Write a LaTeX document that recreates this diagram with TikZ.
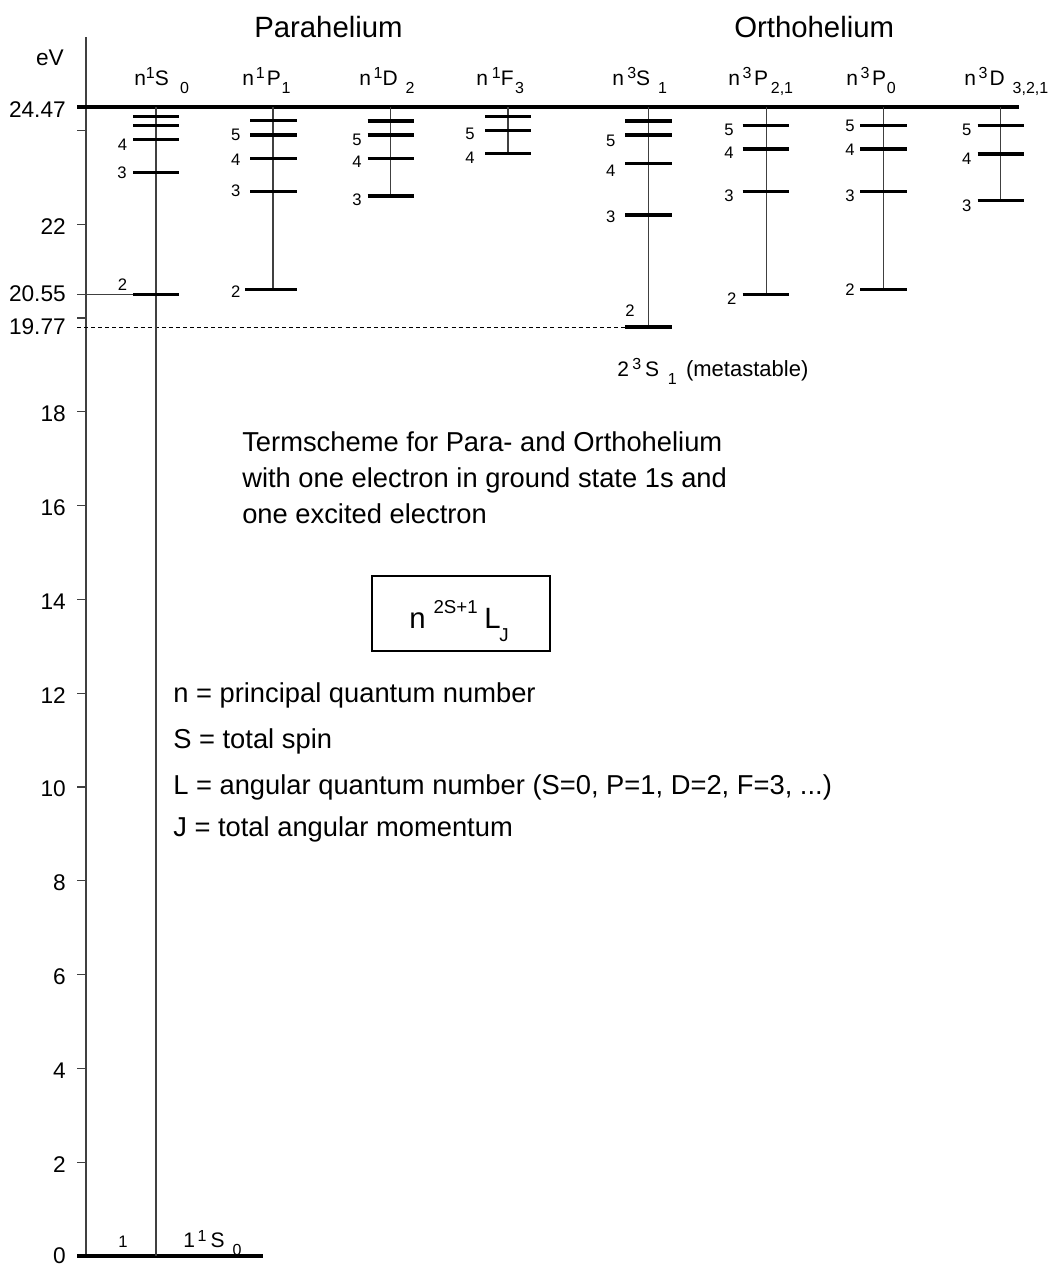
\documentclass[tikz,border=0pt]{standalone}
\usepackage{fontspec}
\setmainfont{Liberation Sans}
\newcommand\up[1]{\raisebox{5pt}{\fontsize{12}{14}\selectfont #1}}
\newcommand\dn[1]{\raisebox{-6pt}{\fontsize{12}{14}\selectfont #1}}
\tikzset{
  lvl/.style={line width=2.4pt},
  conn/.style={line width=0.8pt, black!75},
  axisln/.style={line width=0.8pt, black!75},
  tickln/.style={line width=0.8pt, black!75},
  lab/.style={font=\fontsize{12.5}{14}\selectfont, inner sep=0pt},
  axlab/.style={font=\fontsize{17}{20}\selectfont, inner sep=0pt, anchor=east},
  hdr/.style={font=\fontsize{15.75}{18}\selectfont, inner sep=0pt, anchor=base west},
  ttl/.style={font=\fontsize{22}{26}\selectfont, inner sep=0pt, anchor=base west},
  txt/.style={font=\fontsize{20.5}{24}\selectfont, inner sep=0pt, anchor=base west},
}
\begin{document}
\begin{tikzpicture}[x=0.75pt,y=-0.75pt]
\useasboundingbox (0,0) rectangle (1054,1267);

% axis
\coordinate (axtop) at (86,37);
\coordinate (axbot) at (86,1256);
\draw[axisln] (axtop) -- (axbot);
\foreach \e in {2,4,...,18,22} {
  \draw[tickln] (77,{1256-46.9*\e}) -- (86,{1256-46.9*\e});
  \node[axlab] (ax\e) at (66,{1258-46.9*\e}) {\e};
}
\draw[tickln] (77,130.4) -- (86,130.4);
\draw[tickln] (77,318) -- (86,318);
\node[axlab] (ax0) at (66,1255.5) {0};
\node[axlab] (ax2447) at (66,109.5) {24.47};
\node[axlab] (ax2055) at (66,294) {20.55};
\node[axlab] (ax1977) at (66,327) {19.77};
\node[axlab, anchor=base east] (eV) at (64,65) {eV};

% limit and ground
\coordinate (limL) at (77,107);
\coordinate (limR) at (1019,107);
\draw[lvl] (limL) -- (limR);
\coordinate (gndL) at (77,1256);
\coordinate (gndR) at (263,1256);
\draw[lvl] (gndL) -- (gndR);
\coordinate (a2055) at (77,294.3);
\coordinate (b2055) at (133,294.3);
\draw[conn] (a2055) -- (b2055);
\coordinate (a1977) at (77,327);
\coordinate (b1977) at (625,327);
\draw[line width=0.7pt, dash pattern=on 3pt off 2.3pt] (a1977) -- (b1977);

% titles
\node[ttl] (para) at (254,37) {Parahelium};
\node[ttl] (ortho) at (734,37) {Orthohelium};

% headers
\node[hdr] (h1) at (134,85) {n\up{1}S\hspace{8.5pt}\dn{0}};
\node[hdr] (h2) at (242,85) {n\hspace{1.5pt}\up{1}\hspace{1.5pt}P\hspace{0.5pt}\dn{1}};
\node[hdr] (h3) at (359,85) {n\hspace{2pt}\up{1}D\hspace{6pt}\dn{2}};
\node[hdr] (h4) at (476,85) {n\hspace{3pt}\up{1}F\hspace{1pt}\dn{3}};
\node[hdr] (h5) at (612,85) {n\hspace{2.5pt}\up{3}S\hspace{6pt}\dn{1}};
\node[hdr] (h6) at (728,85) {n\hspace{2pt}\up{3}\hspace{2pt}P\hspace{2pt}\dn{2,1}};
\node[hdr] (h7) at (846,85) {n\hspace{2pt}\up{3}\hspace{2pt}P\hspace{0.5pt}\dn{0}};
\node[hdr] (h8) at (964,85) {n\hspace{2pt}\up{3}\hspace{1.5pt}D\hspace{6pt}\dn{3,2,1}};

% column n1S0
\coordinate (c1t) at (156,107); \coordinate (c1b) at (156,1256);
\draw[conn] (c1t) -- (c1b);
\foreach \y in {116.3,125.7,139.7,172.7,294.3} \draw[lvl] (133,\y) -- (179,\y);
\node[lab] (l14) at (122.5,145) {4};
\node[lab] (l13) at (122,173) {3};
\node[lab] (l12) at (122.5,285) {2};
\node[lab] (l11) at (123,1242) {1};
\node[hdr] (gnd) at (183,1247.7) {1\hspace{2pt}\up{1}\hspace{3pt}S\hspace{6pt}\dn{0}};

% column n1P1
\coordinate (c2t) at (273,107); \coordinate (c2b) at (273,289.3);
\draw[conn] (c2t) -- (c2b);
\foreach \y in {120.7,135,158.3,191.3} \draw[lvl] (250,\y) -- (297,\y);
\draw[lvl] (245,289.3) -- (297,289.3);
\node[lab] (l25) at (235.8,135.3) {5};
\node[lab] (l24) at (235.8,160) {4};
\node[lab] (l23) at (235.8,191) {3};
\node[lab] (l22) at (235.8,292) {2};

% column n1D2
\coordinate (c3t) at (390.7,107); \coordinate (c3b) at (390.7,196);
\draw[conn] (c3t) -- (c3b);
\foreach \y in {121,135,158.3,196} \draw[lvl] (367.7,\y) -- (413.7,\y);
\node[lab] (l35) at (357,140) {5};
\node[lab] (l34) at (357,162) {4};
\node[lab] (l33) at (357,200) {3};

% column n1F3
\coordinate (c4t) at (508,107); \coordinate (c4b) at (508,153.7);
\draw[conn] (c4t) -- (c4b);
\foreach \y in {116.3,130.3,153.7} \draw[lvl] (485,\y) -- (530.7,\y);
\node[lab] (l45) at (470,134) {5};
\node[lab] (l44) at (470,157.5) {4};

% column n3S1
\coordinate (c5t) at (648.7,107); \coordinate (c5b) at (648.7,327);
\draw[conn] (c5t) -- (c5b);
\foreach \y in {121,135,163.3,215,327} \draw[lvl] (625.3,\y) -- (671.7,\y);
\node[lab] (l55) at (610.8,141) {5};
\node[lab] (l54) at (610.8,171) {4};
\node[lab] (l53) at (610.8,217) {3};
\node[lab] (l52) at (630,311) {2};
\node[hdr] (meta) at (617,376) {2\hspace{2.5pt}\up{3}\hspace{3pt}S\hspace{6.5pt}\dn{1}\hspace{7pt}{\fontsize{16.5}{19}\selectfont (metastable)}};

% column n3P21
\coordinate (c6t) at (766.3,107); \coordinate (c6b) at (766.3,294.3);
\draw[conn] (c6t) -- (c6b);
\foreach \y in {125.7,149,191.3,294.3} \draw[lvl] (742.7,\y) -- (788.7,\y);
\node[lab] (l65) at (729,130) {5};
\node[lab] (l64) at (729,152.5) {4};
\node[lab] (l63) at (729,196) {3};
\node[lab] (l62) at (731.7,299) {2};

% column n3P0
\coordinate (c7t) at (883.3,107); \coordinate (c7b) at (883.3,289.3);
\draw[conn] (c7t) -- (c7b);
\foreach \y in {125.7,149,191.3,289.3} \draw[lvl] (860,\y) -- (906.7,\y);
\node[lab] (l75) at (850,126) {5};
\node[lab] (l74) at (850,150) {4};
\node[lab] (l73) at (850,196) {3};
\node[lab] (l72) at (850,290) {2};

% column n3D321
\coordinate (c8t) at (1000.7,107); \coordinate (c8b) at (1000.7,200.7);
\draw[conn] (c8t) -- (c8b);
\foreach \y in {125.7,154,200.7} \draw[lvl] (977.7,\y) -- (1024,\y);
\node[lab] (l85) at (966.7,130) {5};
\node[lab] (l84) at (966.7,158.5) {4};
\node[lab] (l83) at (966.7,206) {3};

% description
\node[txt] (d1) at (242,451) {Termscheme for Para- and Orthohelium};
\node[txt] (d2) at (242,487) {with one electron in ground state 1s and};
\node[txt] (d3) at (242,523) {one excited electron};

% box
\coordinate (bx1) at (372,576); \coordinate (bx2) at (550,651);
\draw[line width=0.8pt] (bx1) rectangle (bx2);
\node[inner sep=0pt, anchor=base west, font=\fontsize{22}{26}\selectfont] (term) at (409,628.3)
  {n\hspace{6pt}\raisebox{11pt}{\fontsize{14}{16}\selectfont 2S+1}\hspace{5pt}L\hspace{-1pt}\raisebox{-10pt}{\fontsize{14}{16}\selectfont J}};

% legend
\node[txt] (q1) at (173,702) {n = principal quantum number};
\node[txt] (q2) at (173,748) {S = total spin};
\node[txt] (q3) at (173,794) {L = angular quantum number (S=0, P=1, D=2, F=3, ...)};
\node[txt] (q4) at (173,836) {J = total angular momentum};
\end{tikzpicture}
\end{document}
